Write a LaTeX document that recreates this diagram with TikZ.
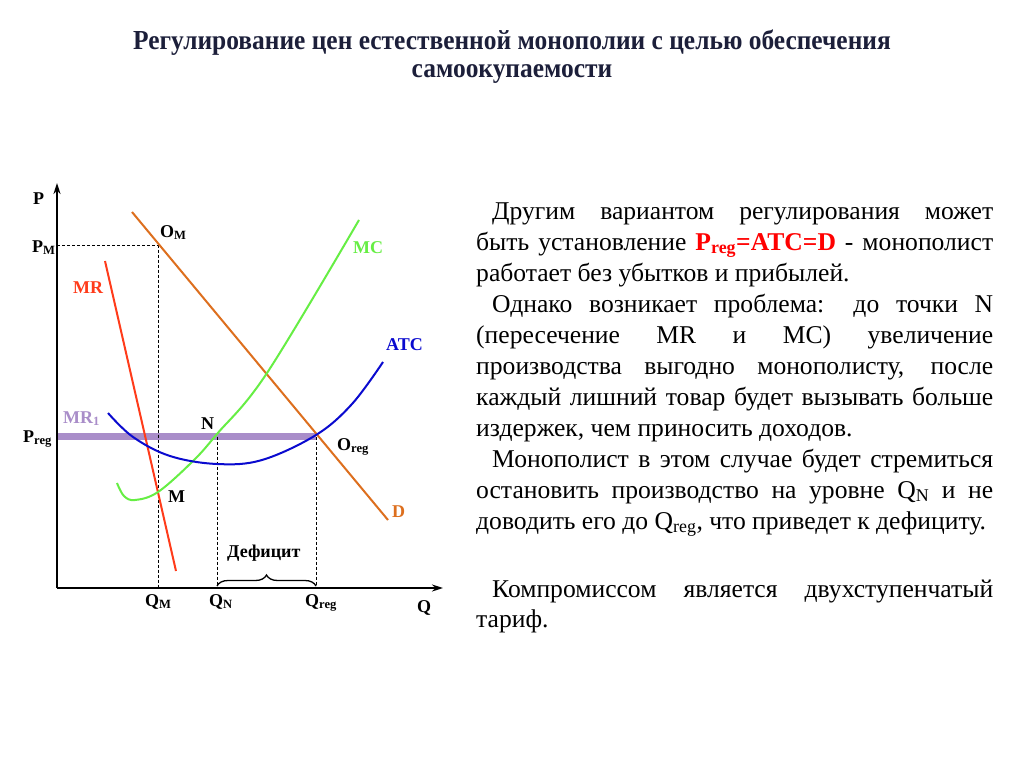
\documentclass[tikz,border=0pt]{standalone}
\usepackage{fontspec}
\setmainfont{Liberation Serif}
\usetikzlibrary{arrows.meta,decorations.pathreplacing}
\definecolor{dcol}{HTML}{DD6F1E}
\definecolor{mrcol}{HTML}{FF3B1A}
\definecolor{mccol}{HTML}{66EE44}
\definecolor{atccol}{HTML}{0A0ACF}
\definecolor{mronecol}{HTML}{A98DC9}
\definecolor{txtred}{HTML}{FF0000}
\definecolor{titlecol}{HTML}{1C1F3A}
\tikzset{
  lbl/.style={font=\bfseries\fontsize{18}{20}\selectfont, inner sep=0pt, anchor=base west},
  body/.style={font=\fontsize{25.6}{31}\selectfont, inner sep=0pt, anchor=base west},
  ttl/.style={font=\bfseries\fontsize{27.5}{30}\selectfont, text=titlecol, inner sep=0pt, anchor=base},
  curve/.style={line width=2pt},
  guide/.style={dashed, line width=0.8pt, dash pattern=on 3pt off 2pt},
  axis/.style={line width=2.5pt, -{Stealth[length=11pt,width=7pt]}}
}
\newcommand{\jl}[2]{\makebox[#1pt][s]{#2}}
\newcommand{\cond}[1]{\scalebox{0.925}[1]{#1}}
\begin{document}
\begin{tikzpicture}[x=1pt,y=-1pt]
\useasboundingbox (0,0) rectangle (1024,767);
\fill[white] (0,0) rectangle (1024,767);
% title
\node[ttl] (t1) at (512,50) {\cond{Регулирование цен естественной монополии с целью обеспечения}};
\node[ttl] (t2) at (512,78) {\cond{самоокупаемости}};
% key points
\coordinate (O) at (57,588);
\coordinate (ytop) at (57,183);
\coordinate (xend) at (443,588);
\coordinate (OM) at (158,245.5);
\coordinate (PM) at (57,245.5);
\coordinate (QM) at (158,588);
\coordinate (Nn) at (217,436.5);
\coordinate (QN) at (217,588);
\coordinate (Oreg) at (316,436.5);
\coordinate (Qreg) at (316,588);
\coordinate (Preg) at (57,436.5);
% regulated price line
\draw[mronecol, line width=6.5pt] (Preg) -- (Oreg);
% dashed guides
\draw[guide] (PM) -- (OM) -- (QM);
\draw[guide] (Nn) -- (QN);
\draw[guide] (Oreg) -- (Qreg);
% curves
\draw[curve, dcol] (132,212) -- (388,520);
\draw[curve, mrcol] (105,261) -- (176,571);
\draw[curve, mccol] plot[smooth, tension=0.6] coordinates {(117,483) (124,496) (135,500) (158,492) (193,461) (217,434) (267,373) (359,220)};
\draw[curve, atccol] plot[smooth, tension=0.6] coordinates {(108,413) (133,437) (170,456) (217,464) (262,460) (316,435) (352,404) (383,362)};
% axes
\draw[axis] (O) -- (ytop);
\draw[axis] (O) -- (xend);
% brace
\draw[line width=1.3pt, decorate, decoration={brace, amplitude=11pt}] (QN) ++(0,-2) coordinate (b1) (b1) -- ++(99,0) coordinate (b2);
% graph labels
\node[lbl] (lP) at (33,205) {P};
\node[lbl] (lPM) at (32,252) {P\textsubscript{M}};
\node[lbl] (lOM) at (160,237) {O\textsubscript{M}};
\node[lbl, text=mccol] (lMC) at (353,253) {MC};
\node[lbl, text=mrcol] (lMR) at (73,293) {MR};
\node[lbl, text=atccol] (lATC) at (386,350) {ATC};
\node[lbl, text=mronecol] (lMR1) at (63,423) {MR\textsubscript{1}};
\node[lbl] (lPreg) at (23,442) {P\textsubscript{reg}};
\node[lbl] (lN) at (201,429) {N};
\node[lbl] (lOreg) at (337,450) {O\textsubscript{reg}};
\node[lbl] (lM) at (168,502) {M};
\node[lbl, text=dcol] (lD) at (392,517) {D};
\node[lbl] (lDef) at (227,557) {Дефицит};
\node[lbl] (lQM) at (145,606) {Q\textsubscript{M}};
\node[lbl] (lQN) at (209,606) {Q\textsubscript{N}};
\node[lbl] (lQreg) at (305,606) {Q\textsubscript{reg}};
\node[lbl] (lQ) at (417,612) {Q};
% body text
\node[body] (b01) at (492,219) {\jl{501}{Другим вариантом регулирования может}};
\node[body] (b02) at (476,250) {\jl{517}{быть установление {\color{txtred}\bfseries P\textsubscript{reg}=ATC=D} - монополист}};
\node[body] (b03) at (476,281) {работает без убытков и прибылей.};
\node[body] (b04) at (492,312) {\jl{501}{Однако возникает проблема: до точки N}};
\node[body] (b05) at (476,343) {\jl{517}{(пересечение MR и MC) увеличение}};
\node[body] (b06) at (476,374) {\jl{517}{производства выгодно монополисту, после}};
\node[body] (b07) at (476,405) {\jl{517}{каждый лишний товар будет вызывать больше}};
\node[body] (b08) at (476,436) {издержек, чем приносить доходов.};
\node[body] (b09) at (492,467) {\jl{501}{Монополист в этом случае будет стремиться}};
\node[body] (b10) at (476,498) {\jl{517}{остановить производство на уровне Q\textsubscript{N} и не}};
\node[body] (b11) at (476,529) {доводить его до Q\textsubscript{reg}, что приведет к дефициту.};
\node[body] (b12) at (492,597) {\jl{501}{Компромиссом является двухступенчатый}};
\node[body] (b13) at (476,627) {тариф.};
\end{tikzpicture}
\end{document}
